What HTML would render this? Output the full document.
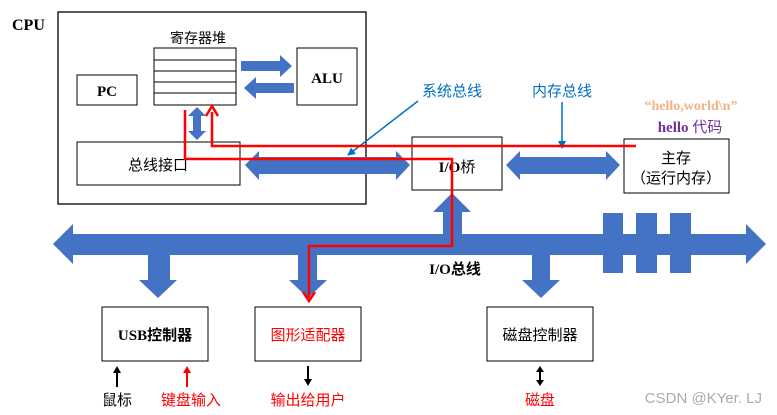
<!DOCTYPE html>
<html><head><meta charset="utf-8"><style>
html,body{margin:0;padding:0;background:#fff;}
svg{display:block;}
text{font-family:"Liberation Serif","Noto Serif CJK SC","Noto Sans CJK SC",serif;}
.cj{font-family:"Liberation Sans","Noto Sans CJK SC",sans-serif;}
</style></head><body>
<svg width="777" height="415" viewBox="0 0 777 415" xmlns="http://www.w3.org/2000/svg">
<defs>
<marker id="bh" markerWidth="8" markerHeight="8" refX="7" refY="4" orient="auto" markerUnits="userSpaceOnUse"><path d="M0,0 L8,4 L0,8 z" fill="#0070c0"/></marker>
</defs>
<text x="12" y="30" font-size="16" font-weight="bold">CPU</text>
<rect x="58" y="12" width="308" height="192" fill="none" stroke="#000" stroke-width="1.3"/>
<text x="198" y="43" font-size="14" text-anchor="middle" class="cj">寄存器堆</text>
<rect x="154" y="48" width="82" height="57" fill="#fff" stroke="#000"/>
<line x1="154" y1="60" x2="236" y2="60" stroke="#000"/>
<line x1="154" y1="71" x2="236" y2="71" stroke="#000"/>
<line x1="154" y1="82" x2="236" y2="82" stroke="#000"/>
<line x1="154" y1="93" x2="236" y2="93" stroke="#000"/>
<rect x="77" y="75" width="60" height="30" fill="#fff" stroke="#000"/>
<text x="107" y="96" font-size="15" font-weight="bold" text-anchor="middle">PC</text>
<rect x="297" y="48" width="60" height="57" fill="#fff" stroke="#000"/>
<text x="327" y="83" font-size="15" font-weight="bold" text-anchor="middle">ALU</text>
<path d="M241,61 L280,61 L280,55 L292,66 L280,77 L280,71 L241,71 z" fill="#4472c4"/>
<path d="M294,83 L256,83 L256,77 L244,88 L256,99 L256,93 L294,93 z" fill="#4472c4"/>
<path d="M197,107 L206,116 L201,116 L201,131 L206,131 L197,140 L188,131 L193,131 L193,116 L188,116 z" fill="#4472c4"/>
<rect x="77" y="142" width="163" height="43" fill="#fff" stroke="#000"/>
<text x="158" y="170" font-size="15" text-anchor="middle" class="cj">总线接口</text>
<path d="M245,165 L259,151 L259,157 L396,157 L396,151 L410,165 L396,180 L396,174 L259,174 L259,180 z" fill="#4472c4"/>
<rect x="412" y="137" width="90" height="53" fill="#fff" stroke="#000"/>
<text x="457" y="172" font-size="15" font-weight="bold" text-anchor="middle">I/O<tspan class="cj" font-weight="normal">桥</tspan></text>
<path d="M506,165 L520,151 L520,157 L606,157 L606,151 L620,165 L606,180 L606,174 L520,174 L520,180 z" fill="#4472c4"/>
<rect x="624" y="139" width="105" height="54" fill="#fff" stroke="#000"/>
<text x="676" y="163" font-size="15" text-anchor="middle" class="cj">主存</text>
<text x="676" y="183" font-size="15" text-anchor="middle" class="cj">（运行内存）</text>
<text x="452" y="96" font-size="15" text-anchor="middle" class="cj" fill="#0070c0">系统总线</text>
<line x1="418" y1="101" x2="348" y2="155" stroke="#0070c0" stroke-width="1.5" marker-end="url(#bh)"/>
<text x="562" y="96" font-size="15" text-anchor="middle" class="cj" fill="#0070c0">内存总线</text>
<line x1="562" y1="102" x2="562" y2="148" stroke="#0070c0" stroke-width="1.5" marker-end="url(#bh)"/>
<text x="691" y="110" font-size="14" font-weight="bold" text-anchor="middle" fill="#f4b183">“hello,world\n”</text>
<text x="690" y="132" font-size="15" text-anchor="middle" fill="#7030a0"><tspan font-weight="bold">hello </tspan><tspan class="cj">代码</tspan></text>
<rect x="603" y="213" width="20" height="60" fill="#4472c4"/>
<rect x="636" y="213" width="21" height="60" fill="#4472c4"/>
<rect x="670" y="213" width="21" height="60" fill="#4472c4"/>
<path d="M53,244 L73,224 L73,234 L746,234 L746,224 L766,244 L746,264 L746,255 L73,255 L73,264 z" fill="#4472c4"/>
<path d="M443,234 L443,212 L433,212 L452,193 L471,212 L462,212 L462,234 z" fill="#4472c4"/>
<path d="M148,255 L148,280 L139,280 L158,298 L177,280 L170,280 L170,255 z" fill="#4472c4"/>
<path d="M298,255 L298,280 L289,280 L308,298 L327,280 L317,280 L317,255 z" fill="#4472c4"/>
<path d="M532,255 L532,280 L522,280 L541,298 L560,280 L550,280 L550,255 z" fill="#4472c4"/>
<text x="455" y="274" font-size="15" font-weight="bold" text-anchor="middle">I/O<tspan class="cj">总线</tspan></text>
<polyline points="636,146 212,146 212,112" fill="none" stroke="#ff0000" stroke-width="2.5"/>
<path d="M206,116 L212,106 L218,116" fill="none" stroke="#ff0000" stroke-width="2.5"/>
<polyline points="185,110 185,159 452,159 452,246 309,246 309,298" fill="none" stroke="#ff0000" stroke-width="2.5"/>
<path d="M303,292 L309,301 L315,292" fill="none" stroke="#ff0000" stroke-width="2.5"/>
<rect x="102" y="307" width="106" height="54" fill="#fff" stroke="#000"/>
<text x="155" y="340" font-size="15" font-weight="bold" text-anchor="middle">USB<tspan class="cj">控制器</tspan></text>
<rect x="255" y="307" width="106" height="54" fill="#fff" stroke="#000"/>
<text x="308" y="340" font-size="15" text-anchor="middle" class="cj" fill="#ff0000">图形适配器</text>
<rect x="487" y="307" width="106" height="54" fill="#fff" stroke="#000"/>
<text x="540" y="340" font-size="15" text-anchor="middle" class="cj">磁盘控制器</text>
<line x1="117" y1="387" x2="117" y2="372" stroke="#000" stroke-width="2"/>
<path d="M113,373 L117,366 L121,373 z" fill="#000"/>
<line x1="187" y1="387" x2="187" y2="372" stroke="#ff0000" stroke-width="2"/>
<path d="M183,373 L187,366 L191,373 z" fill="#ff0000"/>
<line x1="308" y1="366" x2="308" y2="380" stroke="#000" stroke-width="2"/>
<path d="M304,379 L308,386 L312,379 z" fill="#000"/>
<line x1="540" y1="371" x2="540" y2="381" stroke="#000" stroke-width="2"/>
<path d="M536,372 L540,366 L544,372 z M536,380 L540,386 L544,380 z" fill="#000"/>
<text x="117" y="405" font-size="15" text-anchor="middle" class="cj">鼠标</text>
<text x="191" y="405" font-size="15" text-anchor="middle" class="cj" fill="#ff0000">键盘输入</text>
<text x="308" y="405" font-size="15" text-anchor="middle" class="cj" fill="#ff0000">输出给用户</text>
<text x="540" y="405" font-size="15" text-anchor="middle" class="cj" fill="#ff0000">磁盘</text>
<text x="762" y="403" font-size="15" text-anchor="end" class="cj" fill="#aaaaaa">CSDN @KYer. LJ</text>
</svg>
</body></html>
